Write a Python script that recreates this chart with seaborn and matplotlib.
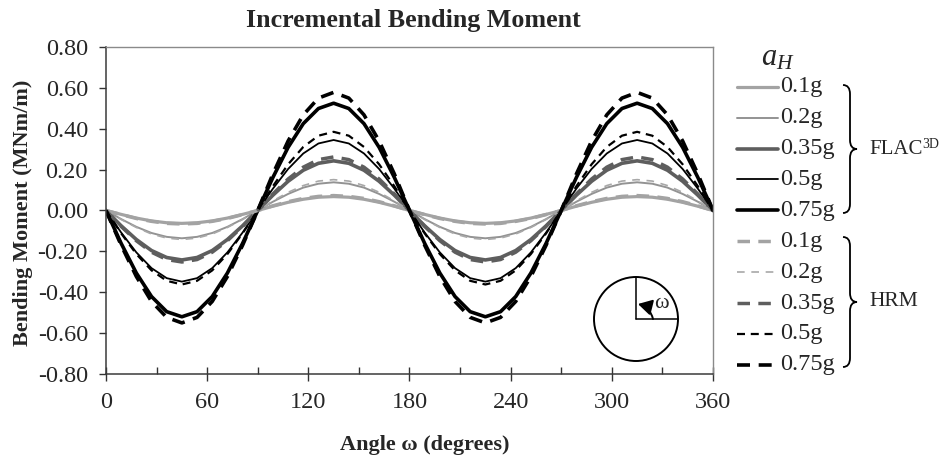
import numpy as np
import pandas as pd
import matplotlib
matplotlib.use("Agg")
import matplotlib.pyplot as plt
import seaborn as sns
from matplotlib.path import Path
from matplotlib.patches import PathPatch, Circle, FancyArrowPatch
from matplotlib.lines import Line2D
from matplotlib.ticker import FuncFormatter, FixedLocator

# ---------------------------------------------------------------- data
angle = list(range(0, 361, 9))  # degrees

levels = ["0.1g", "0.2g", "0.35g", "0.5g", "0.75g"]

flac_01 = [0, -.019, -.037, -.051, -.060, -.063, -.060, -.051, -.037, -.019,
           0, .021, .040, .055, .065, .068, .065, .055, .040, .021,
           0, -.019, -.037, -.051, -.060, -.063, -.060, -.051, -.037, -.019,
           0, .021, .040, .055, .065, .068, .065, .055, .040, .021, 0]
flac_02 = [0, -.042, -.080, -.110, -.129, -.136, -.129, -.110, -.080, -.042,
           0, .043, .081, .112, .131, .138, .131, .112, .081, .043,
           0, -.042, -.080, -.110, -.129, -.136, -.129, -.110, -.080, -.042,
           0, .043, .081, .112, .131, .138, .131, .112, .081, .043, 0]
flac_035 = [0, -.075, -.142, -.196, -.230, -.242, -.230, -.196, -.142, -.075,
            0, .075, .143, .197, .231, .243, .231, .197, .143, .075,
            0, -.075, -.142, -.196, -.230, -.242, -.230, -.196, -.142, -.075,
            0, .075, .143, .197, .231, .243, .231, .197, .143, .075, 0]
flac_05 = [0, -.108, -.205, -.282, -.331, -.348, -.331, -.282, -.205, -.108,
           0, .107, .203, .279, .328, .345, .328, .279, .203, .107,
           0, -.108, -.205, -.282, -.331, -.348, -.331, -.282, -.205, -.108,
           0, .107, .203, .279, .328, .345, .328, .279, .203, .107, 0]
flac_075 = [0, -.161, -.306, -.421, -.495, -.520, -.495, -.421, -.306, -.161,
            0, .162, .309, .425, .499, .525, .499, .425, .309, .162,
            0, -.161, -.306, -.421, -.495, -.520, -.495, -.421, -.306, -.161,
            0, .162, .309, .425, .499, .525, .499, .425, .309, .162, 0]

hrm_01 = [0, -.020, -.039, -.053, -.063, -.066, -.063, -.053, -.039, -.020,
          0, .023, .043, .059, .069, .073, .069, .059, .043, .023,
          0, -.020, -.039, -.053, -.063, -.066, -.063, -.053, -.039, -.020,
          0, .023, .043, .059, .069, .073, .069, .059, .043, .023, 0]
hrm_02 = [0, -.044, -.083, -.115, -.135, -.142, -.135, -.115, -.083, -.044,
          0, .047, .089, .122, .144, .151, .144, .122, .089, .047,
          0, -.044, -.083, -.115, -.135, -.142, -.135, -.115, -.083, -.044,
          0, .047, .089, .122, .144, .151, .144, .122, .089, .047, 0]
hrm_035 = [0, -.078, -.148, -.204, -.240, -.252, -.240, -.204, -.148, -.078,
           0, .081, .154, .212, .249, .262, .249, .212, .154, .081,
           0, -.078, -.148, -.204, -.240, -.252, -.240, -.204, -.148, -.078,
           0, .081, .154, .212, .249, .262, .249, .212, .154, .081, 0]
hrm_05 = [0, -.112, -.213, -.293, -.344, -.362, -.344, -.293, -.213, -.112,
          0, .119, .226, .311, .366, .385, .366, .311, .226, .119,
          0, -.112, -.213, -.293, -.344, -.362, -.344, -.293, -.213, -.112,
          0, .119, .226, .311, .366, .385, .366, .311, .226, .119, 0]
hrm_075 = [0, -.170, -.323, -.445, -.523, -.550, -.523, -.445, -.323, -.170,
           0, .179, .340, .468, .550, .578, .550, .468, .340, .179,
           0, -.170, -.323, -.445, -.523, -.550, -.523, -.445, -.323, -.170,
           0, .179, .340, .468, .550, .578, .550, .468, .340, .179, 0]

x_ticks = [0, 60, 120, 180, 240, 300, 360]
y_ticks = [-0.8, -0.6, -0.4, -0.2, 0.0, 0.2, 0.4, 0.6, 0.8]

# ---------------------------------------------------------------- styles
flac_series = [flac_01, flac_02, flac_035, flac_05, flac_075]
hrm_series = [hrm_01, hrm_02, hrm_035, hrm_05, hrm_075]

shade = ["#a3a3a3", "#939393", "#5e5e5e", "#000000", "#000000"]
shade_hrm = ["#a3a3a3", "#a8a8a8", "#5e5e5e", "#000000", "#000000"]
width_flac = [2.3, 1.4, 2.6, 1.3, 2.6]
width_hrm = [2.5, 1.2, 2.5, 1.6, 2.6]
dash_hrm = [(3.6, 2.4), (4.6, 4.0), (3.6, 2.4), (3.6, 2.6), (3.6, 2.4)]

names, palette, sizes, dashes = [], {}, {}, {}
frames = []
for group, series, cols, widths in (("FLAC", flac_series, shade, width_flac),
                                     ("HRM", hrm_series, shade_hrm, width_hrm)):
    for i, (lev, vals) in enumerate(zip(levels, series)):
        key = f"{group} {lev}"
        names.append(key)
        palette[key] = cols[i]
        sizes[key] = widths[i]
        dashes[key] = "" if group == "FLAC" else dash_hrm[i]
        frames.append(pd.DataFrame({"angle": angle, "moment": vals, "series": key}))
df = pd.concat(frames, ignore_index=True)

# ---------------------------------------------------------------- figure
sns.set_theme(style="ticks")
plt.rcParams["font.family"] = ["Liberation Serif", "DejaVu Serif"]
plt.rcParams["mathtext.fontset"] = "custom"
plt.rcParams["mathtext.rm"] = "Liberation Serif"
plt.rcParams["mathtext.it"] = "Liberation Serif:italic"
plt.rcParams["mathtext.bf"] = "Liberation Serif:bold"
plt.rcParams["axes.unicode_minus"] = False

W, H = 949, 459
fig = plt.figure(figsize=(W / 100, H / 100), dpi=100)
fig.patch.set_facecolor("white")


def fx(x):
    return x / W


def fy(y):
    return 1 - y / H


ax = fig.add_axes([fx(106), fy(374), (713 - 106) / W, (374 - 47) / H])
sns.lineplot(data=df, x="angle", y="moment", hue="series", style="series",
             size="series", hue_order=names, style_order=names, size_order=names,
             palette=palette, sizes=sizes, dashes=dashes, legend=False,
             sort=False, errorbar=None, ax=ax)

ax.set_xlim(0, 360)
ax.set_ylim(-0.8, 0.8)
ax.xaxis.set_major_locator(FixedLocator(x_ticks))
ax.xaxis.set_minor_locator(FixedLocator([30, 90, 150, 210, 270, 330]))
ax.yaxis.set_major_locator(FixedLocator(y_ticks))
ax.yaxis.set_major_formatter(FuncFormatter(lambda v, p: f"{round(v, 2) + 0.0:.2f}"))
ax.set_xlabel("")
ax.set_ylabel("")
ax.tick_params(axis="x", which="major", direction="inout", length=10, width=1.0,
               color="#333333", labelsize=17.5, pad=8)
ax.tick_params(axis="x", which="minor", direction="in", length=5, width=1.0,
               color="#333333")
ax.tick_params(axis="y", which="major", direction="out", length=5, width=1.0,
               color="#333333", labelsize=17.5, pad=8)
for side in ("left", "bottom"):
    ax.spines[side].set_color("#3a3a3a")
    ax.spines[side].set_linewidth(1.1)
for side in ("top", "right"):
    ax.spines[side].set_color("#8a8a8a")
    ax.spines[side].set_linewidth(1.0)
    ax.spines[side].set_visible(True)

fig.text(fx(413), fy(20), "Incremental Bending Moment", ha="center", va="center",
         fontsize=18.7, fontweight="bold")
fig.text(fx(425), fy(445), "Angle ω (degrees)", ha="center", va="center",
         fontsize=16, fontweight="bold")
fig.text(fx(23), fy(213), "Bending Moment (MNm/m)", ha="center", va="center",
         rotation=90, fontsize=16, fontweight="bold")

# ---------------------------------------------------------------- angle sketch
ins = fig.add_axes([fx(636 - 46), fy(319 + 46), 92 / W, 92 / H])
ins.set_xlim(-46, 46)
ins.set_ylim(-46, 46)
ins.axis("off")
ins.add_patch(Circle((0, 0), 42, fill=False, lw=1.4, color="black"))
ins.plot([0, 0], [0, 42], color="black", lw=1.1)
ins.plot([0, 42], [0, 0], color="black", lw=1.1)
ins.add_patch(FancyArrowPatch((17, 0), (2, 15), connectionstyle="arc3,rad=0.3",
                              arrowstyle="-|>,head_length=0.7,head_width=0.4",
                              mutation_scale=12, lw=1.4, color="black",
                              shrinkA=0, shrinkB=0))
ins.text(18, 15, "ω", fontsize=16, ha="left", va="center")

# ---------------------------------------------------------------- key
fig.text(fx(778), fy(58), "$a_H$", fontsize=22, ha="center", va="center")
row0, pitch = 86.7, 30.9
all_cols = shade + shade_hrm
all_w = width_flac + width_hrm
for i, key in enumerate(names):
    y = row0 + i * pitch
    ls = "-" if i < 5 else (0, dash_hrm[i - 5])
    fig.add_artist(Line2D([fx(737), fx(778)], [fy(y), fy(y)], color=all_cols[i],
                          lw=all_w[i], linestyle=ls, transform=fig.transFigure))
    fig.text(fx(780), fy(y), levels[i % 5], fontsize=17.5, ha="left", va="center")


def brace(top, bottom, xl=843, xm=850, xt=857, r=9):
    mid = (top + bottom) / 2
    pts = [(xl, top), (xm, top), (xm, top + r),
           (xm, mid - r), (xm, mid), (xt, mid),
           (xm, mid), (xm, mid + r),
           (xm, bottom - r), (xm, bottom), (xl, bottom)]
    codes = [Path.MOVETO, Path.CURVE3, Path.CURVE3,
             Path.LINETO, Path.CURVE3, Path.CURVE3,
             Path.CURVE3, Path.CURVE3,
             Path.LINETO, Path.CURVE3, Path.CURVE3]
    verts = [(fx(a), fy(b)) for a, b in pts]
    fig.add_artist(PathPatch(Path(verts, codes), fill=False, lw=1.3,
                             edgecolor="black", transform=fig.transFigure))
    return mid


m1 = brace(85, 213)
flac_txt = fig.text(fx(869), fy(m1), "FLAC", fontsize=15, ha="left", va="center")
renderer = fig.canvas.get_renderer()
x_end = flac_txt.get_window_extent(renderer).x1
fig.text(x_end / W, fy(m1 - 5), "3D", fontsize=10, ha="left", va="center")
m2 = brace(237, 367)
fig.text(fx(869), fy(m2), "HRM", fontsize=15.5, ha="left", va="center")

fig.savefig("out.png", dpi=100, facecolor="white")
